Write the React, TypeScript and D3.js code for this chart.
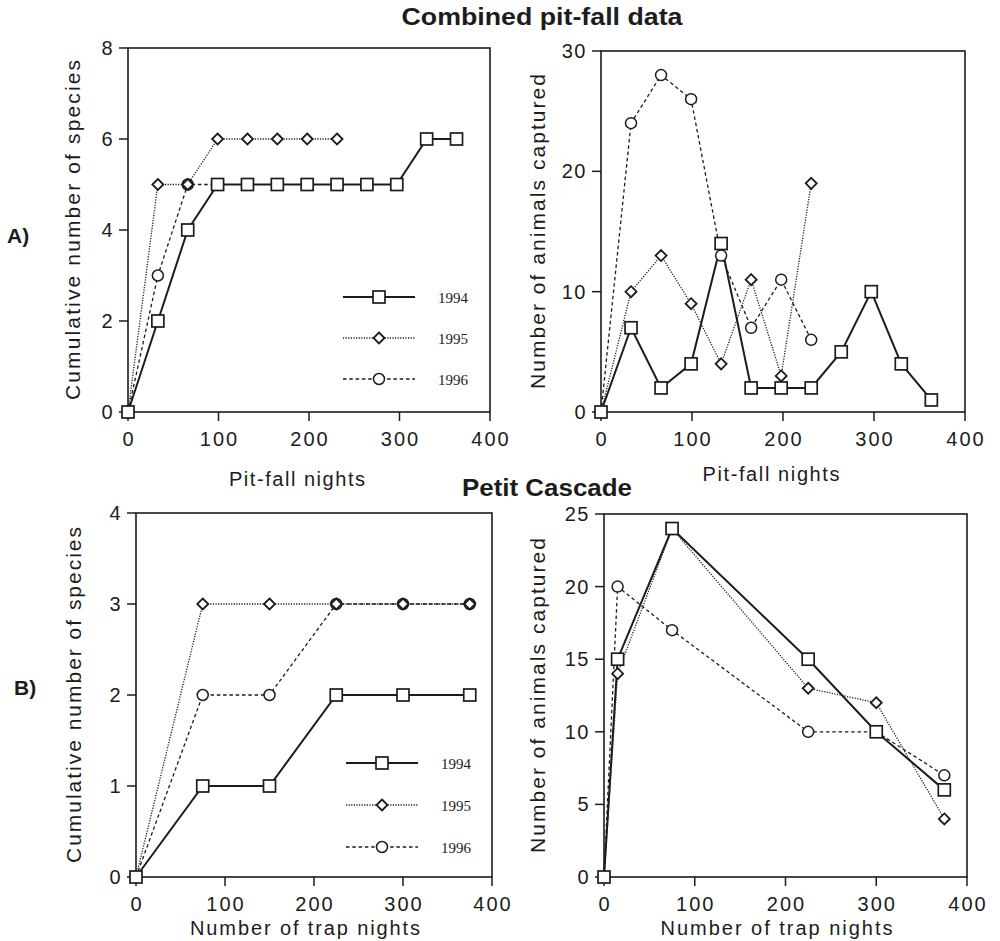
import React from 'react';
import * as d3 from 'd3';

// --- data ---
const years = ['1994', '1995', '1996'];

// A) combined pit-fall data, 33 pit-fall nights per sample
const pitNights = [0, 33, 66, 99, 132, 165, 198, 231, 264, 297, 330, 363];
const speciesA1994 = [0, 2, 4, 5, 5, 5, 5, 5, 5, 5, 6, 6];
const speciesA1995 = [0, 5, 5, 6, 6, 6, 6, 6];
const speciesA1996 = [0, 3, 5, 5];
const capturesA1994 = [0, 7, 2, 4, 14, 2, 2, 2, 5, 10, 4, 1];
const capturesA1995 = [0, 10, 13, 9, 4, 11, 3, 19];
const capturesA1996 = [0, 24, 28, 26, 13, 7, 11, 6];

// B) Petit Cascade
const trapNights = [0, 75, 150, 225, 300, 375];
const speciesB1994 = [0, 1, 1, 2, 2, 2];
const speciesB1995 = [0, 3, 3, 3, 3, 3];
const speciesB1996 = [0, 2, 2, 3, 3, 3];
const trapNightsCapt = [0, 15, 75, 225, 300, 375];
const capturesB1994 = [0, 15, 24, 15, 10, 6];
const capturesB1995 = [0, 14, 24, 13, 12, 4];
const capturesB1996 = [0, 20, 17, 10, 10, 7];

const xTicks = [0, 100, 200, 300, 400];
const yTicksA1 = [0, 2, 4, 6, 8];
const yTicksA2 = [0, 10, 20, 30];
const yTicksB1 = [0, 1, 2, 3, 4];
const yTicksB2 = [0, 5, 10, 15, 20, 25];

const SANS = '"Liberation Sans", Arial, Helvetica, sans-serif';
const SERIF = '"Liberation Serif", "Times New Roman", serif';
const INK = '#1c1c1c';

type Kind = 'square' | 'diamond' | 'circle';
const kinds: Kind[] = ['square', 'diamond', 'circle'];
const dashes = [null, '1.2 1.4', '3.5 2.8'];
const widths = [2, 1.3, 1.3];

function Marker({ kind, x, y }: { kind: Kind; x: number; y: number }) {
  if (kind === 'square')
    return <rect x={x - 6} y={y - 6} width={12} height={12} fill="#fff" stroke={INK} strokeWidth={1.7} />;
  if (kind === 'diamond')
    return (
      <path d={`M${x},${y - 5.5}L${x + 5.5},${y}L${x},${y + 5.5}L${x - 5.5},${y}Z`} fill="#fff" stroke={INK} strokeWidth={1.8} />
    );
  return <circle cx={x} cy={y} r={5.5} fill="#fff" stroke={INK} strokeWidth={1.5} />;
}

interface PanelProps {
  left: number; right: number; top: number; bottom: number;
  yMax: number; yTicks: number[];
  xs: number[][]; ys: number[][];
  yLabel: string; yLabelX: number; yLabelLen: number;
  xLabel: string; xLabelY: number; xLabelLen: number; xLabelDx?: number;
  legend?: { x: number; y: number; gap: number };
}

function Panel(p: PanelProps) {
  const x = d3.scaleLinear().domain([0, 400]).range([p.left, p.right]);
  const y = d3.scaleLinear().domain([0, p.yMax]).range([p.bottom, p.top]);
  const line = d3.line<[number, number]>().x((d) => x(d[0])).y((d) => y(d[1]));
  const series = p.ys.map((vals, i) => vals.map((v, j) => [p.xs[i][j], v] as [number, number]));
  const midY = (p.top + p.bottom) / 2;
  const midX = (p.left + p.right) / 2 + (p.xLabelDx || 0);
  // squares end up on top, as in the original
  const markerOrder = [2, 1, 0];

  return (
    <g>
      <rect x={p.left} y={p.top} width={p.right - p.left} height={p.bottom - p.top} fill="none" stroke={INK} strokeWidth={1.6} />
      {p.yTicks.map((t) => (
        <g key={'y' + t}>
          <line x1={p.left - 9} x2={p.left} y1={y(t)} y2={y(t)} stroke={INK} strokeWidth={1.5} />
          <text x={p.left - 14} y={y(t) + 7} textAnchor="end" fontSize={20} letterSpacing={1.5} fontFamily={SANS} fill={INK}>
            {t}
          </text>
        </g>
      ))}
      {xTicks.map((t) => (
        <g key={'x' + t}>
          <line x1={x(t)} x2={x(t)} y1={p.bottom} y2={p.bottom + 9} stroke={INK} strokeWidth={1.5} />
          <text x={x(t) + 1} y={p.bottom + 34} textAnchor="middle" fontSize={20} letterSpacing={2} fontFamily={SANS} fill={INK}>
            {t}
          </text>
        </g>
      ))}
      {series.map((s, i) => (
        <path key={'l' + i} d={line(s) || ''} fill="none" stroke={INK} strokeWidth={widths[i]} strokeDasharray={dashes[i] || undefined} />
      ))}
      {markerOrder.map((i) =>
        series[i].map((d, j) => <Marker key={'m' + i + '-' + j} kind={kinds[i]} x={x(d[0])} y={y(d[1])} />)
      )}
      <text
        transform={`translate(${p.yLabelX},${midY}) rotate(-90)`}
        textAnchor="middle"
        fontSize={21}
        fontFamily={SANS}
        fill={INK}
        textLength={p.yLabelLen}
        lengthAdjust="spacing"
      >
        {p.yLabel}
      </text>
      <text x={midX} y={p.xLabelY} textAnchor="middle" fontSize={20} fontFamily={SANS} fill={INK} textLength={p.xLabelLen} lengthAdjust="spacing">
        {p.xLabel}
      </text>
      {p.legend &&
        years.map((yr, i) => {
          const ly = p.legend!.y + i * p.legend!.gap;
          return (
            <g key={yr}>
              <line x1={p.legend!.x} x2={p.legend!.x + 72} y1={ly} y2={ly} stroke={INK} strokeWidth={widths[i]} strokeDasharray={dashes[i] || undefined} />
              <Marker kind={kinds[i]} x={p.legend!.x + 36} y={ly} />
              <text x={p.legend!.x + 95} y={ly + 6} fontSize={15} fontFamily={SERIF} fill={INK}>
                {yr}
              </text>
            </g>
          );
        })}
    </g>
  );
}

export default function App() {
  return (
    <svg width={1000} height={941} style={{ display: 'block', position: 'absolute', left: 0, top: 0, background: '#fff' }}>
      <text x={542} y={25} textAnchor="middle" fontSize={23} fontWeight="bold" fontFamily={SANS} fill={INK} textLength={281} lengthAdjust="spacingAndGlyphs">
        Combined pit-fall data
      </text>
      <text x={547} y={496} textAnchor="middle" fontSize={23} fontWeight="bold" fontFamily={SANS} fill={INK} textLength={170} lengthAdjust="spacingAndGlyphs">
        Petit Cascade
      </text>
      <text x={7} y={243} fontSize={21} fontWeight="bold" fontFamily={SANS} fill={INK}>A)</text>
      <text x={14} y={695} fontSize={21} fontWeight="bold" fontFamily={SANS} fill={INK}>B)</text>

      <Panel
        left={128} right={490} top={48} bottom={412}
        yMax={8} yTicks={yTicksA1}
        xs={[pitNights, pitNights, pitNights]}
        ys={[speciesA1994, speciesA1995, speciesA1996]}
        yLabel="Cumulative number of species" yLabelX={80} yLabelLen={340}
        xLabel="Pit-fall nights" xLabelY={486} xLabelLen={136} xLabelDx={-12}
        legend={{ x: 343, y: 297, gap: 41 }}
      />
      <Panel
        left={601} right={965} top={51} bottom={412}
        yMax={30} yTicks={yTicksA2}
        xs={[pitNights, pitNights, pitNights]}
        ys={[capturesA1994, capturesA1995, capturesA1996]}
        yLabel="Number of animals captured" yLabelX={545} yLabelLen={315}
        xLabel="Pit-fall nights" xLabelY={481} xLabelLen={137} xLabelDx={-12}
      />
      <Panel
        left={136} right={492} top={513} bottom={877}
        yMax={4} yTicks={yTicksB1}
        xs={[trapNights, trapNights, trapNights]}
        ys={[speciesB1994, speciesB1995, speciesB1996]}
        yLabel="Cumulative number of species" yLabelX={81} yLabelLen={336}
        xLabel="Number of trap nights" xLabelY={935} xLabelLen={230} xLabelDx={-9}
        legend={{ x: 346, y: 763, gap: 42 }}
      />
      <Panel
        left={604} right={967} top={514} bottom={877}
        yMax={25} yTicks={yTicksB2}
        xs={[trapNightsCapt, trapNightsCapt, trapNightsCapt]}
        ys={[capturesB1994, capturesB1995, capturesB1996]}
        yLabel="Number of animals captured" yLabelX={545} yLabelLen={315}
        xLabel="Number of trap nights" xLabelY={935} xLabelLen={232} xLabelDx={-9}
      />
    </svg>
  );
}
